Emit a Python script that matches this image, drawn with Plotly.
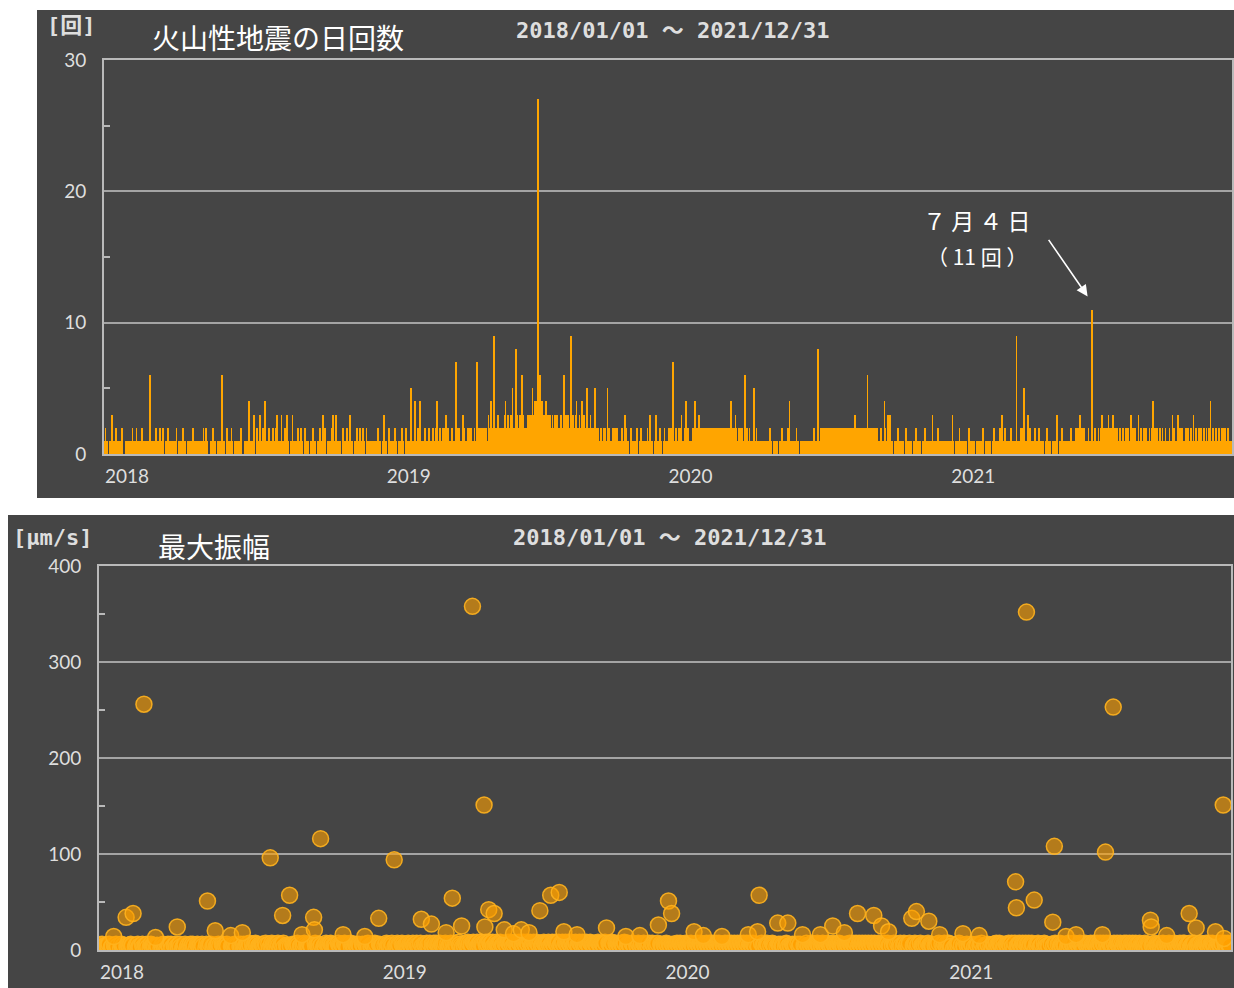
import datetime as dt
import plotly.graph_objects as go

# ---------------------------------------------------------------
# Daily counts of volcanic earthquakes, one digit per day.
# Months are separated by "|", spaces only group the days by ten.
# ---------------------------------------------------------------
COUNTS_2018 = (
    "1121100111 3111002101 1112100011 1|"
    "1100112111 1211001121 11100111|"
    "1611100121 1111211200 0111211101 1|"
    "1101200111 1121110011 1100121111|"
    "1111001112 1121100011 1211100111 1|"
    "1161110021 1111210001 1111112100|"
    "0111111411 1113100211 1311021141 1|"
    "1021100211 1231111131 1021131100 1|"
    "1301100121 1121100211 1110011121|"
    "1100111211 1312100111 1021311310 1|"
    "1110012111 1211131100 0111211121|"
    "1211002111 1111100111 1211100113 1"
)
COUNTS_2019 = (
    "1100201111 1021100111 1211002111 1|"
    "1151111411 1214211011 21011211|"
    "1121012411 1201121213 1121101211 1|"
    "1721121101 3121102112 1211021171|"
    "1212112121 2113124112 9122131212 2|"
    "2213422312 2315221283 2213262312|"
    "2223233235 3242341436 3423234323 2|"
    "2321322312 3212232126 2312321292 3|"
    "2213422132 2412312152 2131221252|"
    "2121122112 1211512100 1211212001 1|"
    "1121113211 1001211101 1210011211|"
    "1101121131 1100113101 1211001210 1"
)
COUNTS_2020 = (
    "1121211711 1211212131 1121412111 1|"
    "1121411211 3122121221 221212112|"
    "2121221212 1221212121 2241212132 1|"
    "1211212116 1121121111 1511211011|"
    "1100101110 1121001011 1100101211 0|"
    "1100214110 1101121100 1011001011|"
    "1101101121 1128112121 2212222122 2|"
    "2221222122 2212222122 2222122222 3|"
    "2222122212 2222262212 2212222121|"
    "1121111421 1312311100 1011200101 1|"
    "1001210110 1100101211 0110010121|"
    "1011011131 1100121101 1001011011 1"
)
COUNTS_2021 = (
    "1113100101 1021100101 1100210110 1|"
    "1001011101 1210010110 11001021|"
    "1101112131 1021101111 2101101911 1|"
    "1121215111 1312111011 2101121101|"
    "1100121101 1001011131 0010121101 1|"
    "1101121101 1121122312 2121101121|"
    "1120111211 1211213121 1212312112 3|"
    "1211211121 1121112121 1132112121 1|"
    "1311211121 1211121121 4121121112|"
    "1121112111 1211131211 1131121211 1|"
    "1211211121 1311211121 1211121121|"
    "1214112111 2111211122 1121112111 1"
)

# days with two-digit counts
PEAK_DATES = ["2019-07-17", "2021-07-04"]
PEAK_COUNTS = [27, 11]

# ---------------------------------------------------------------
# Daily maximum amplitude [μm/s] of small events, one digit per day
# (plotted only on days with at least one earthquake).
# ---------------------------------------------------------------
AMP_2018 = (
    "4353624435 3546253443 5362435426 3|"
    "4536243543 6354243536 24354635|"
    "3546354264 3543625436 4253643542 6|"
    "5436243546 3542635424 3654352463|"
    "4635243654 3526435426 3543625435 4|"
    "3546254365 4253645326 4354625436|"
    "5463546325 4637543625 4756345436 5|"
    "4637543625 4736543627 5436547364 5|"
    "4365473654 3647536453 6475364536|"
    "5436547365 4637546354 7365437564 5|"
    "4536475436 5437654365 4736543654|"
    "3654736543 6547365436 5473654365 4"
)
AMP_2019 = (
    "4536547365 4637546354 7365437564 5|"
    "5647365437 5463754637 54736547|"
    "4637546375 4736547365 4637546354 7|"
    "5647365478 5647365476 5847365487|"
    "6578465786 5476857648 6578465786 5|"
    "6587465876 5487658746 5876548765|"
    "6587648765 8746587648 7658746587 6|"
    "7658746587 6487658746 5876487658 7|"
    "6587465876 5487658746 5876548765|"
    "5476548765 4765487654 7654876547 6|"
    "4765476548 7654765487 6547654765|"
    "4654765465 4765476546 5476546547 6"
)
AMP_2020 = (
    "5476546547 6546547654 7654654765 4|"
    "6547654765 4765476547 654765476|"
    "5476547654 7654765476 5476547654 7|"
    "6547654765 4765476547 6547654765|"
    "4654765465 4765465476 5465476546 5|"
    "5465476546 5476546547 6546547654|"
    "4765465476 5465476546 5476546547 6|"
    "5465476546 5476546547 6546547654 7|"
    "6547654765 4765476547 6547654765|"
    "5476547654 7654765476 5476547654 7|"
    "4654765465 4765465476 5465476546|"
    "5465476546 5476546547 6546547654 7"
)
AMP_2021 = (
    "4763465273 5364726546 5372646547 6|"
    "5463726546 5374626547 65364726|"
    "6537264765 4726376547 6537462765 4|"
    "5376247654 7264736476 5372647654|"
    "4652736465 4736265476 5462736546 5|"
    "5463726546 5473626547 6536247654|"
    "6537264765 4726376547 6547362765 4|"
    "5376247654 7362476476 5473627654 7|"
    "4652736465 4736265476 5462736546|"
    "5463726546 5473626547 6536247654 7|"
    "4763465273 5364726546 5372646547|"
    "6537264765 4726376547 6537462765 4"
)

# larger daily maximum amplitudes [μm/s]
BIG_AMP_DATES = [
    "2018-01-20", "2018-02-05", "2018-02-14", "2018-02-28", "2018-03-15",
    "2018-04-12", "2018-05-21", "2018-05-31", "2018-06-20", "2018-07-05",
    "2018-08-10", "2018-08-26", "2018-09-04", "2018-09-20", "2018-10-05",
    "2018-10-06", "2018-10-14", "2018-11-12", "2018-12-10", "2018-12-28",
    "2019-01-17", "2019-02-21", "2019-03-06", "2019-03-25", "2019-04-02",
    "2019-04-14", "2019-04-28", "2019-05-13", "2019-05-14", "2019-05-19",
    "2019-05-26", "2019-06-08", "2019-06-20", "2019-06-30", "2019-07-10",
    "2019-07-24", "2019-08-07", "2019-08-18", "2019-08-24", "2019-09-10",
    "2019-10-18", "2019-11-12", "2019-11-30", "2019-12-24", "2020-01-06",
    "2020-01-10", "2020-02-08", "2020-02-20", "2020-03-15", "2020-04-18",
    "2020-04-30", "2020-05-02", "2020-05-26", "2020-06-08", "2020-06-27",
    "2020-07-20", "2020-08-05", "2020-08-20", "2020-09-06", "2020-09-27",
    "2020-10-07", "2020-10-16", "2020-11-15", "2020-11-21", "2020-12-07",
    "2020-12-21", "2021-01-20", "2021-02-10", "2021-03-29", "2021-03-30",
    "2021-04-12", "2021-04-22", "2021-05-16", "2021-05-18", "2021-06-02",
    "2021-06-15", "2021-07-19", "2021-07-23", "2021-08-02", "2021-09-19",
    "2021-09-20", "2021-10-10", "2021-11-08", "2021-11-17", "2021-12-12",
    "2021-12-22", "2021-12-23",
]
BIG_AMP_VALUES = [
    14, 34, 38, 256, 13,
    24, 51, 20, 15, 18,
    96, 36, 57, 16, 34,
    21, 116, 16, 14, 33,
    94, 32, 27, 18, 54,
    25, 358, 151, 24, 42,
    38, 21, 17, 21, 18,
    41, 57, 60, 19, 16,
    23, 14, 15, 26, 51,
    38, 19, 15, 14, 16,
    19, 57, 28, 28, 16,
    16, 25, 18, 38, 36,
    25, 19, 33, 40, 30,
    16, 17, 15, 71, 44,
    352, 52, 29, 108, 14,
    16, 16, 102, 253, 31,
    24, 15, 38, 23, 19,
    151, 12,
]

YEAR_TICKS = ["2018-01-01", "2019-01-01", "2020-01-01", "2021-01-01"]
YEAR_LABELS = ["2018", "2019", "2020", "2021"]
COUNT_TICKS = [0, 10, 20, 30]
AMP_TICKS = [0, 100, 200, 300, 400]


def expand(year, text):
    """Turn a year string of per-day digits into {date: value}."""
    out = {}
    for month, chunk in enumerate(text.split("|"), start=1):
        digits = chunk.replace(" ", "")
        first = dt.date(year, month, 1)
        for i, ch in enumerate(digits):
            out[first + dt.timedelta(days=i)] = int(ch)
    return out


counts = {}
amps = {}
for yr, c_txt, a_txt in [(2018, COUNTS_2018, AMP_2018), (2019, COUNTS_2019, AMP_2019),
                         (2020, COUNTS_2020, AMP_2020), (2021, COUNTS_2021, AMP_2021)]:
    counts.update(expand(yr, c_txt))
    amps.update(expand(yr, a_txt))
for d, v in zip(PEAK_DATES, PEAK_COUNTS):
    counts[dt.date.fromisoformat(d)] = v

bar_x = [d for d in sorted(counts) if counts[d] > 0]
bar_y = [counts[d] for d in bar_x]

big_days = {dt.date.fromisoformat(d) for d in BIG_AMP_DATES}
small_x = [d for d in sorted(amps) if counts.get(d, 0) > 0 and d not in big_days]
small_y = [amps[d] for d in small_x]

# ---------------------------------------------------------------
W, H = 1234, 988
BG = "#454545"
FRAME = "#b9b9b9"
GRID = "#a4a4a4"
TXT = "#dedede"
ORANGE = "#ffa500"


def px(x):
    return x / W


def py(y):
    return 1 - y / H


marker_style = dict(size=16, color="rgba(255,160,0,0.6)",
                    line=dict(color="rgba(255,178,30,0.9)", width=1.5))

fig = go.Figure()
fig.add_trace(go.Bar(x=bar_x, y=bar_y, marker=dict(color=ORANGE, line=dict(width=0)),
                     xaxis="x", yaxis="y", hoverinfo="x+y"))
fig.add_trace(go.Scatter(x=small_x, y=small_y, mode="markers", marker=marker_style,
                         xaxis="x2", yaxis="y2"))
fig.add_trace(go.Scatter(x=BIG_AMP_DATES, y=BIG_AMP_VALUES, mode="markers", marker=marker_style,
                         xaxis="x2", yaxis="y2"))

axis_font = dict(family="Lato, sans-serif", size=19, color=TXT)
common_x = dict(type="date", range=["2018-01-01", "2022-01-01"], showgrid=False,
                zeroline=False, showline=True, linecolor=FRAME, linewidth=2, mirror=True,
                tickvals=YEAR_TICKS, ticktext=YEAR_LABELS, ticks="", tickfont=axis_font,
                ticklabelshift=23, ticklabelstandoff=4, automargin=False)
common_y = dict(showgrid=True, gridcolor=GRID, gridwidth=1.5, zeroline=False,
                showline=True, linecolor=FRAME, linewidth=2, mirror=True,
                ticks="", tickfont=axis_font, ticklabelstandoff=12, automargin=False)

fig.update_layout(
    width=W, height=H, margin=dict(l=0, r=0, t=0, b=0, pad=0, autoexpand=False),
    paper_bgcolor="white", plot_bgcolor=BG, showlegend=False, bargap=0,
    xaxis=dict(common_x, domain=[px(104), px(1232)], anchor="y"),
    yaxis=dict(common_y, domain=[py(454), py(60)], anchor="x", range=[0, 30],
               tickvals=COUNT_TICKS,
               minor=dict(tickvals=[5, 15, 25], ticks="inside", ticklen=6,
                          tickcolor=FRAME, tickwidth=2, showgrid=False)),
    xaxis2=dict(common_x, domain=[px(99), px(1231)], anchor="y2"),
    yaxis2=dict(common_y, domain=[py(950), py(566)], anchor="x2", range=[0, 400],
                tickvals=AMP_TICKS,
                minor=dict(tickvals=[50, 150, 250, 350], ticks="inside", ticklen=6,
                           tickcolor=FRAME, tickwidth=2, showgrid=False)),
    shapes=[
        dict(type="rect", xref="paper", yref="paper", x0=px(37), x1=1, y0=py(498), y1=py(10),
             fillcolor=BG, line=dict(width=0), layer="below"),
        dict(type="rect", xref="paper", yref="paper", x0=px(8), x1=1, y0=0, y1=py(515),
             fillcolor=BG, line=dict(width=0), layer="below"),
    ],
)

mono = "DejaVu Sans Mono, Noto Sans CJK JP, monospace"
cjk = "Noto Sans CJK JP, sans-serif"
notes = [
    ("[回]", 45, 26, mono, 22, TXT, "bold"),
    ("火山性地震の日回数", 150, 37, cjk, 28, "white", "normal"),
    ("2018/01/01 ～ 2021/12/31", 514, 30, mono, 22, TXT, "bold"),
    ("[μm/s]", 11, 537, mono, 22, TXT, "bold"),
    ("最大振幅", 156, 546, cjk, 28, "white", "normal"),
    ("2018/01/01 ～ 2021/12/31", 511, 537, mono, 22, TXT, "bold"),
]
for text, x, y, fam, size, col, wt in notes:
    fig.add_annotation(text=text, xref="paper", yref="paper", x=px(x), y=py(y),
                       xanchor="left", yanchor="middle", showarrow=False,
                       font=dict(family=fam, size=size, color=col, weight=wt))

# callout for the 4 July 2021 peak
fig.add_annotation(text="７ 月 ４ 日", xref="paper", yref="paper", x=px(976), y=py(220),
                   xanchor="center", yanchor="middle", showarrow=False,
                   font=dict(family=cjk, size=23, color="white"))
fig.add_annotation(text="（ 11 回 ）", xref="paper", yref="paper", x=px(977), y=py(256),
                   xanchor="center", yanchor="middle", showarrow=False,
                   font=dict(family=cjk, size=21, color="white"))
fig.add_annotation(text="", x="2021-06-28", y=12, xref="x", yref="y",
                   ax=-40, ay=-58, showarrow=True, arrowhead=2, arrowsize=1.4,
                   arrowwidth=1.6, arrowcolor="white")

fig.write_html("out.html")
